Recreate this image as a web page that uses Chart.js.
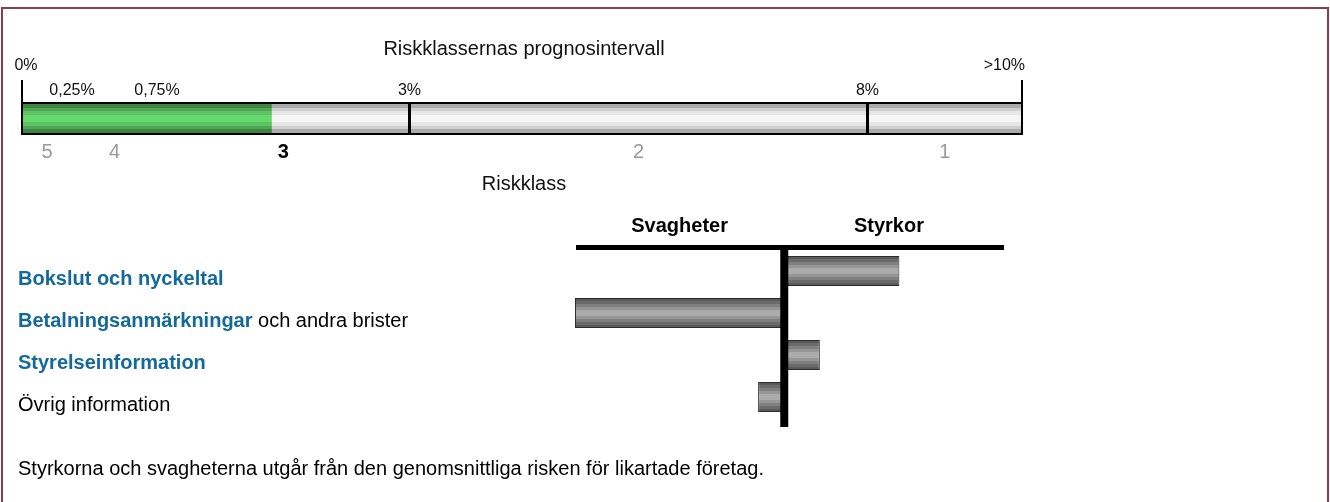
<!DOCTYPE html>
<html lang="sv">
<head>
<meta charset="utf-8">
<title>Riskklass</title>
<script src="https://cdn.jsdelivr.net/npm/chart.js@4.4.1/dist/chart.umd.min.js"></script>
<style>
  html, body { margin: 0; padding: 0; background: #fff; }
  body { width: 1330px; height: 502px; position: relative; overflow: hidden; }
  .ram { position: absolute; left: 1px; top: 7px; width: 1328px; height: 520px; box-sizing: border-box; border: 2px solid #8c3c4a; border-bottom: none; }
  canvas { position: absolute; left: 0; }
  #prognos { top: 0; }
  #styrkor { top: 200px; }
</style>
</head>
<body>
<div class="ram"></div>
<canvas id="prognos" width="1330" height="200"></canvas>
<canvas id="styrkor" width="1330" height="302"></canvas>
<script>
// --- data ---
const gransVarden = [0, 0.25, 0.75, 3, 8, 10];
const gransEtiketter = ['0%', '0,25%', '0,75%', '3%', '8%', '>10%'];
const riskklasser = ['5', '4', '3', '2', '1'];
const aktuellKlass = '3';
const prognosVarde = 1.77;

const kategorier = ['Bokslut och nyckeltal', 'Betalningsanmärkningar och andra brister', 'Styrelseinformation', 'Övrig information'];
const markeradText = ['Bokslut och nyckeltal', 'Betalningsanmärkningar', 'Styrelseinformation', ''];
const avvikelse = [0.55, -1.0, 0.17, -0.125];

// --- utseende ---
const FONT = '"Liberation Sans", Arial, sans-serif';
const BLA = '#14699b';
// skalans brytpunkter (andel av bredden) for gransVarden
const skalaAndel = [0, 0.05, 0.135, 0.3875, 0.8455, 1];

const gronaBand = ['#3e8443', '#4fa654', '#5cc462', '#66d96c', '#66d96c', '#5cc462', '#4fa654', '#3e8443'];
const grabaBand = ['#ababab', '#cfcfcf', '#e6e6e6', '#f6f6f6', '#f6f6f6', '#e6e6e6', '#cfcfcf', '#ababab'];
const stapelBand = ['#595959', '#6b6b6b', '#808080', '#969696', '#ababab', '#ababab', '#969696', '#808080', '#6b6b6b', '#595959'];

function bandGradient(ctx, top, bottom, farger) {
  const g = ctx.createLinearGradient(0, top, 0, bottom);
  const n = farger.length;
  farger.forEach(function (c, i) {
    g.addColorStop(i / n, c);
    g.addColorStop((i + 1) / n, c);
  });
  return g;
}

// styckvis linjar skala: riskintervallen ar inte lika breda
function tillAndel(v) {
  if (v <= gransVarden[0]) return 0;
  for (let i = 1; i < gransVarden.length; i++) {
    if (v <= gransVarden[i]) {
      const t = (v - gransVarden[i - 1]) / (gransVarden[i] - gransVarden[i - 1]);
      return skalaAndel[i - 1] + t * (skalaAndel[i] - skalaAndel[i - 1]);
    }
  }
  return 1;
}

class StyckvisSkala extends Chart.LinearScale {
  getPixelForValue(value) {
    if (value === null || isNaN(value)) return NaN;
    return this.getPixelForDecimal(tillAndel(value));
  }
}
StyckvisSkala.id = 'styckvis';
StyckvisSkala.defaults = Chart.LinearScale.defaults;
Chart.register(StyckvisSkala);

function text(ctx, s, x, y, font, color, align) {
  ctx.font = font;
  ctx.fillStyle = color;
  ctx.textAlign = align || 'left';
  ctx.textBaseline = 'alphabetic';
  ctx.fillText(s, x, y);
}

const prognosRitning = {
  id: 'prognosRitning',
  afterDatasetsDraw(chart) {
    const ctx = chart.ctx;
    const a = chart.chartArea;
    const x = chart.scales.x;
    const mitt = (a.left + a.right) / 2 + 2;
    ctx.save();
    ctx.fillStyle = '#000';
    ctx.fillRect(a.left, a.top - 2, a.right - a.left, 2);
    ctx.fillRect(a.left, a.bottom, a.right - a.left, 2);
    ctx.fillRect(a.left - 1, a.top - 24, 2, a.bottom - a.top + 26);
    ctx.fillRect(a.right - 1, a.top - 24, 2, a.bottom - a.top + 26);
    for (let i = 1; i < gransVarden.length - 1; i++) {
      if (gransVarden[i] <= prognosVarde) continue;
      ctx.fillRect(x.getPixelForValue(gransVarden[i]) - 1.5, a.top, 3, a.bottom - a.top);
    }

    text(ctx, 'Riskklassernas prognosintervall', mitt, a.top - 49, '20px ' + FONT, '#111', 'center');
    const sista = gransVarden.length - 1;
    text(ctx, gransEtiketter[0], x.getPixelForValue(gransVarden[0]) + 4, a.top - 34, '16px ' + FONT, '#111', 'center');
    text(ctx, gransEtiketter[sista], x.getPixelForValue(gransVarden[sista]) + 3, a.top - 34, '16px ' + FONT, '#111', 'right');
    for (let i = 1; i < sista; i++) {
      text(ctx, gransEtiketter[i], x.getPixelForValue(gransVarden[i]), a.top - 9, '16px ' + FONT, '#111', 'center');
    }

    riskklasser.forEach(function (k, i) {
      const px = (x.getPixelForValue(gransVarden[i]) + x.getPixelForValue(gransVarden[i + 1])) / 2;
      const aktuell = k === aktuellKlass;
      text(ctx, k, px, a.bottom + 25, (aktuell ? 'bold ' : '') + '20px ' + FONT, aktuell ? '#000' : '#9a9a9a', 'center');
    });
    text(ctx, 'Riskklass', mitt, a.bottom + 57, '20px ' + FONT, '#111', 'center');
    ctx.restore();
  }
};

function gaugeFarg(band) {
  return function (c) {
    const a = c.chart.chartArea;
    if (!a || !isFinite(a.top) || !isFinite(a.bottom)) return band[3];
    return bandGradient(c.chart.ctx, a.top, a.bottom, band);
  };
}

new Chart(document.getElementById('prognos'), {
  type: 'bar',
  data: {
    labels: ['Prognos'],
    datasets: [
      { data: [prognosVarde], backgroundColor: gaugeFarg(gronaBand), borderWidth: 0, barPercentage: 1, categoryPercentage: 1 },
      { data: [gransVarden[gransVarden.length - 1] - prognosVarde], backgroundColor: gaugeFarg(grabaBand), borderWidth: 0, barPercentage: 1, categoryPercentage: 1 }
    ]
  },
  options: {
    indexAxis: 'y',
    responsive: false,
    animation: false,
    events: [],
    layout: { padding: { left: 22, right: 308, top: 104, bottom: 67 } },
    plugins: { legend: { display: false }, tooltip: { enabled: false } },
    scales: {
      x: { type: 'styckvis', display: false, stacked: true, min: gransVarden[0], max: gransVarden[gransVarden.length - 1] },
      y: { display: false, stacked: true }
    }
  },
  plugins: [prognosRitning]
});

const styrkorRitning = {
  id: 'styrkorRitning',
  afterDatasetsDraw(chart) {
    const ctx = chart.ctx;
    const a = chart.chartArea;
    const x = chart.scales.x;
    const y = chart.scales.y;
    const noll = x.getPixelForValue(0);
    ctx.save();
    ctx.fillStyle = '#000';
    ctx.fillRect(a.left + 1, a.top - 5, a.right - a.left - 1, 5);
    ctx.fillRect(noll - 4, a.top - 2, 8, a.bottom - a.top + 11);

    text(ctx, 'Svagheter', x.getPixelForValue(-0.5), a.top - 18, 'bold 20px ' + FONT, '#000', 'center');
    text(ctx, 'Styrkor', x.getPixelForValue(0.5), a.top - 18, 'bold 20px ' + FONT, '#000', 'center');

    kategorier.forEach(function (namn, i) {
      const by = y.getPixelForValue(i) + 14;
      const fet = markeradText[i];
      let px = 18;
      if (fet) {
        text(ctx, fet, px, by, 'bold 20px ' + FONT, BLA);
        px += ctx.measureText(fet).width;
      }
      const rest = namn.slice(fet.length);
      if (rest) text(ctx, rest, px, by, '20px ' + FONT, '#000');
    });

    text(ctx, 'Styrkorna och svagheterna utgår från den genomsnittliga risken för likartade företag.', 18, a.bottom + 57, '20px ' + FONT, '#000');
    ctx.restore();
  }
};

new Chart(document.getElementById('styrkor'), {
  type: 'bar',
  data: {
    labels: kategorier,
    datasets: [{
      data: avvikelse,
      backgroundColor: function (c) {
        const ch = c.chart;
        const y = ch.scales.y;
        if (c.type !== 'data' || !y) return '#888';
        const mitt = y.getPixelForValue(c.dataIndex);
        const h = (y.height / kategorier.length) * 0.72;
        if (!isFinite(mitt) || !isFinite(h) || h <= 0) return '#888';
        return bandGradient(ch.ctx, mitt - h / 2, mitt + h / 2, stapelBand);
      },
      borderColor: '#2b2b2b',
      borderWidth: 1,
      borderSkipped: false,
      barPercentage: 0.72,
      categoryPercentage: 1
    }]
  },
  options: {
    indexAxis: 'y',
    responsive: false,
    animation: false,
    events: [],
    layout: { padding: { left: 575, right: 326, top: 50, bottom: 84 } },
    plugins: { legend: { display: false }, tooltip: { enabled: false } },
    scales: {
      x: { display: false, min: -1, max: 1.05 },
      y: { display: false }
    }
  },
  plugins: [styrkorRitning]
});
</script>
</body>
</html>
